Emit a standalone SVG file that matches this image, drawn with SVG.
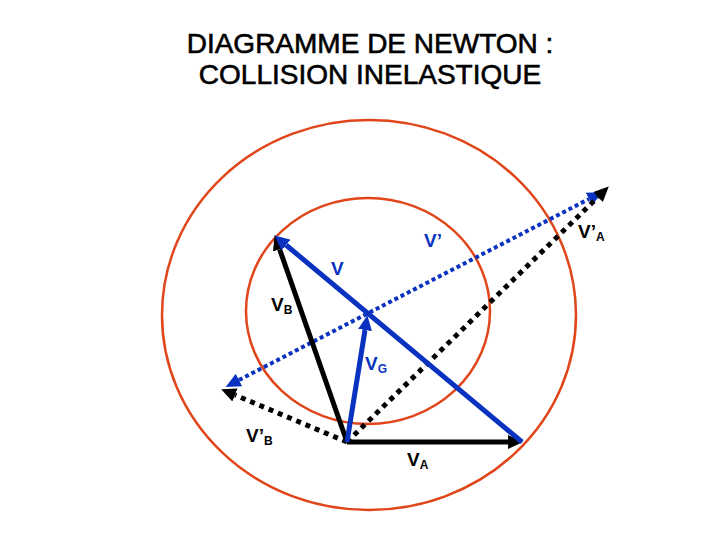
<svg xmlns="http://www.w3.org/2000/svg" width="720" height="540" viewBox="0 0 720 540">
<style>
.title{font-family:"Liberation Sans",Arial,sans-serif;font-size:28px;fill:#000;stroke:#000;stroke-width:0.6;text-anchor:middle}
.lbl{font-family:"Liberation Sans",Arial,sans-serif;font-size:19px;font-weight:bold}
.sub{font-size:12px}
.blk{fill:#000}
.blu{fill:#0a32c0}
.circ{fill:none;stroke:#e0461a;stroke-width:2.5}
.sb{stroke:#000;stroke-width:5;fill:none}
.su{stroke:#0a32c0;stroke-width:5;fill:none}
.db{stroke:#000;stroke-width:5;stroke-dasharray:5 5;fill:none}
.du{stroke:#0a32c0;stroke-width:4;stroke-dasharray:4 3;fill:none}
</style>
<defs>
<marker id="ak" markerUnits="userSpaceOnUse" markerWidth="16" markerHeight="14" refX="0" refY="7" orient="auto-start-reverse"><path d="M0,0 L15,7 L0,14 Z" fill="#000"/></marker>
<marker id="au" markerUnits="userSpaceOnUse" markerWidth="16" markerHeight="14" refX="0" refY="7" orient="auto-start-reverse"><path d="M0,0 L15,7 L0,14 Z" fill="#0a32c0"/></marker>
</defs>
<g id="title">
<text class="title" x="370" y="53">DIAGRAMME DE NEWTON :</text>
<text class="title" x="370" y="84">COLLISION INELASTIQUE</text>
</g>
<g id="circles">
<ellipse id="outer" class="circ" cx="369" cy="315" rx="207" ry="195"/>
<ellipse id="inner" class="circ" cx="368" cy="311" rx="122" ry="113"/>
</g>
<g id="connectors">
<line class="du" x1="239" y1="380" x2="589" y2="199" marker-start="url(#au)" marker-end="url(#au)"/>
<line class="db" x1="347" y1="442" x2="598" y2="197" marker-end="url(#ak)"/>
<line class="db" x1="347" y1="442" x2="235" y2="395" marker-end="url(#ak)"/>
<line class="sb" x1="347" y1="442" x2="508" y2="442" marker-end="url(#ak)"/>
<line class="sb" x1="347" y1="442" x2="279.6" y2="249.2" marker-end="url(#ak)"/>
<line class="su" x1="522" y1="442" x2="286" y2="245" marker-end="url(#au)"/>
<line class="su" x1="347" y1="442" x2="365" y2="330" marker-end="url(#au)"/>
</g>
<g id="labels">
<g id="lbl-vp"><text class="lbl blu" x="424" y="247">V’</text></g>
<g id="lbl-v"><text class="lbl blu" x="331" y="275">V</text></g>
<g id="lbl-vb"><text class="lbl blk" x="271" y="311">V<tspan class="sub" dy="3">B</tspan></text></g>
<g id="lbl-vg"><text class="lbl blu" x="365" y="370">V<tspan class="sub" dy="3">G</tspan></text></g>
<g id="lbl-vpb"><text class="lbl blk" x="246" y="442">V’<tspan class="sub" dy="3">B</tspan></text></g>
<g id="lbl-va"><text class="lbl blk" x="407" y="466">V<tspan class="sub" dy="3">A</tspan></text></g>
<g id="lbl-vpa"><text class="lbl blk" x="578" y="238">V’<tspan class="sub" dy="3">A</tspan></text></g>
</g>
</svg>
